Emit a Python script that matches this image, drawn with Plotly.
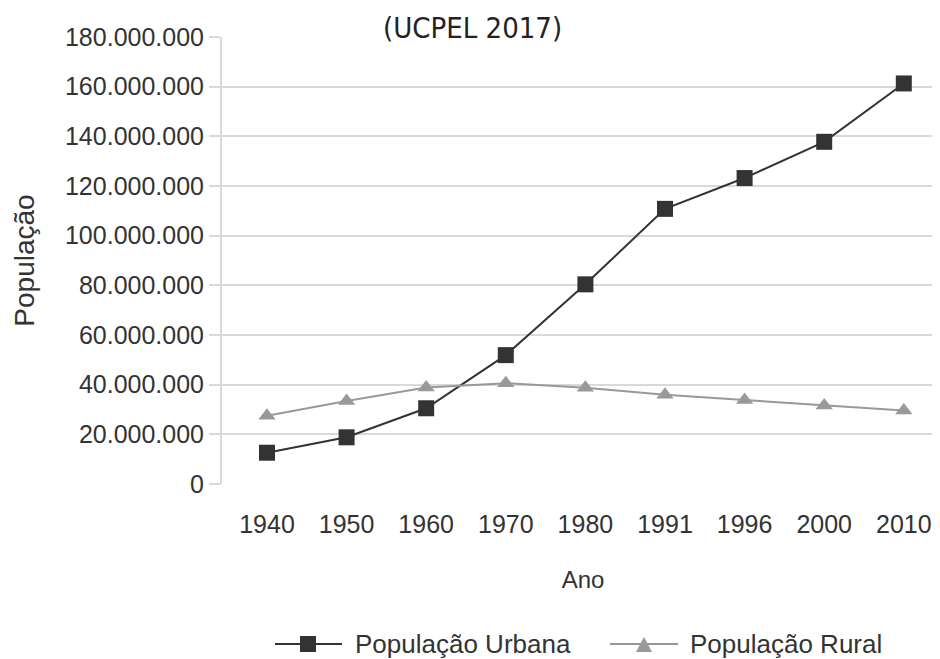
import plotly.graph_objects as go

anos = ["1940", "1950", "1960", "1970", "1980", "1991", "1996", "2000", "2010"]
urbana = [12.6e6, 18.8e6, 30.5e6, 51.9e6, 80.4e6, 110.8e6, 123.2e6, 137.8e6, 161.3e6]
rural = [27.5e6, 33.4e6, 38.9e6, 40.6e6, 38.8e6, 35.9e6, 33.8e6, 31.6e6, 29.6e6]
y_ticks = [0, 20e6, 40e6, 60e6, 80e6, 100e6, 120e6, 140e6, 160e6, 180e6]
y_labels = ["0", "20.000.000", "40.000.000", "60.000.000", "80.000.000", "100.000.000",
            "120.000.000", "140.000.000", "160.000.000", "180.000.000"]
series_names = ["População Urbana", "População Rural"]
colors = ["#333333", "#999999"]

fig = go.Figure()
fig.add_trace(go.Scatter(x=anos, y=urbana, name=series_names[0], mode="lines+markers",
                         line=dict(color=colors[0], width=2),
                         marker=dict(symbol="square", size=16, color=colors[0])))
fig.add_trace(go.Scatter(x=anos, y=rural, name=series_names[1], mode="lines+markers",
                         line=dict(color=colors[1], width=2),
                         marker=dict(symbol="triangle-up", size=15, color=colors[1])))

W, H = 940, 659
L, T, B, R = 214, 29, 183, 4
pw, ph = W - L - R, H - T - B
def px(x):
    return (x - 8 - L) / pw
def py(y):
    return 1 - (y - 8 - T) / ph

txt = "#333333"
fig.update_layout(
    width=W, height=H,
    margin=dict(l=L, r=R, t=T, b=B),
    plot_bgcolor="white", paper_bgcolor="white",
    font=dict(family="Liberation Sans, Arial, sans-serif", size=25, color=txt),
    showlegend=False,
    xaxis=dict(type="category", range=[-0.565, 8.505], showgrid=False, showline=False,
               zeroline=False, ticks="", ticklabelstandoff=23, tickfont=dict(size=25, color=txt),
               title=dict(text="Ano", font=dict(size=24, color=txt), standoff=34)),
    yaxis=dict(range=[0, 180e6], tickvals=y_ticks, ticktext=y_labels,
               showgrid=True, gridcolor="#d9d9d9", gridwidth=2,
               showline=True, linecolor="#d9d9d9", linewidth=2,
               ticks="outside", ticklen=11, tickcolor="#d9d9d9", tickwidth=2,
               zeroline=False, tickfont=dict(size=25, color=txt),
               title=dict(text="População", font=dict(size=28, color=txt), standoff=22)),
)
# title box covering top gridline
fig.add_shape(type="rect", xref="paper", yref="paper", x0=px(362), x1=px(585),
              y0=py(62), y1=py(0), fillcolor="white", line=dict(width=0), layer="above")
fig.add_annotation(text="(UCPEL 2017)", xref="paper", yref="paper", x=px(472), y=py(28),
                   xanchor="center", yanchor="middle", showarrow=False,
                   font=dict(family="DejaVu Sans Condensed, DejaVu Sans, sans-serif", size=29, color="#222222"))

# legend (drawn manually to match the long line symbols)
ly = py(644)
leg = [(275, 342, 308, 353), (610, 678, 644, 688)]
for i, (x0, x1, xm, xt) in enumerate(leg):
    fig.add_shape(type="line", xref="paper", yref="paper", x0=px(x0), x1=px(x1), y0=ly, y1=ly,
                  line=dict(color=colors[i], width=2))
    fig.add_annotation(text=series_names[i], xref="paper", yref="paper", x=px(xt), y=ly,
                       xanchor="left", yanchor="middle", showarrow=False,
                       font=dict(size=26, color=txt))
# square marker
fig.add_shape(type="rect", xref="paper", yref="paper", x0=px(300), x1=px(316),
              y0=py(652), y1=py(636), fillcolor=colors[0], line=dict(width=0))
# triangle marker
tx = [px(636), px(652), px(644)]
tyb, tyt = py(652), py(637)
fig.add_shape(type="path", xref="paper", yref="paper",
              path=f"M {tx[0]} {tyb} L {tx[1]} {tyb} L {tx[2]} {tyt} Z",
              fillcolor=colors[1], line=dict(width=0))
fig.write_html("out.html")
